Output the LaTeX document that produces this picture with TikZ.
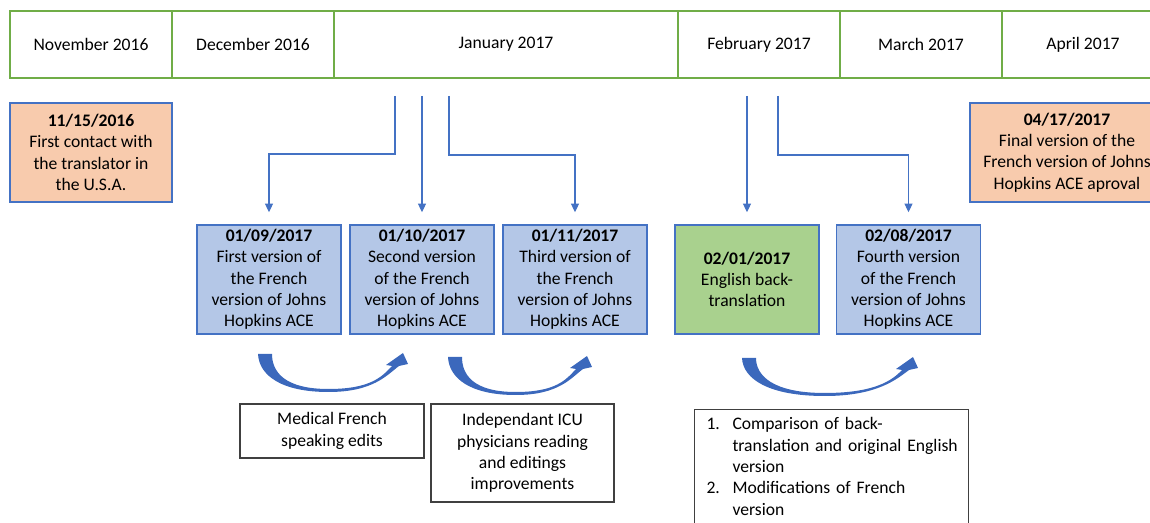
\documentclass[tikz,border=0pt]{standalone}
\usepackage{fontspec}
\setmainfont{Carlito}
\usetikzlibrary{arrows.meta}

\definecolor{hdrgreen}{HTML}{70AD47}
\definecolor{edgeblue}{HTML}{4472C4}
\definecolor{verblue}{HTML}{B4C7E7}
\definecolor{datepeach}{HTML}{F8CBAD}
\definecolor{backgreen}{HTML}{A9D18E}
\definecolor{bendblue}{HTML}{3B68BC}

\tikzset{
  every node/.style={font=\fontsize{13.2}{16}\selectfont},
  month/.style={shape=rectangle, draw=hdrgreen, line width=1.1pt, inner sep=0, minimum width=121.5pt, minimum height=50.25pt},
  milestone/.style={shape=rectangle, draw=edgeblue, line width=1.1pt, fill=datepeach, align=center, inner sep=0, minimum width=121.5pt, minimum height=74.25pt},
  version/.style={shape=rectangle, draw=edgeblue, line width=1.1pt, fill=verblue, align=center, inner sep=0, minimum width=108pt, minimum height=81.75pt},
  editbox/.style={shape=rectangle, draw=black!75, line width=0.8pt, align=center, inner sep=0},
  conn/.style={draw=edgeblue, line width=0.8pt, -{Triangle[width=6pt,length=6.5pt]}, shorten >=9pt}
}

% bent block arrow: tail x, head x, top y, bottom y (px)
\newcommand{\bentarrow}[4]{%
  \pgfmathsetmacro{\bw}{#2-#1}%
  \pgfmathsetmacro{\bh}{#4-#3}%
  \pgfmathsetmacro{\bm}{#1+0.47*\bw}%
  \fill[bendblue] (#1,#3) .. controls ({#1+1},{#3+0.55*\bh}) and ({\bm-0.32*\bw},#4) .. (\bm,#4)
    .. controls ({\bm+0.3*\bw},#4) and ({#2-21},{#3+0.55*\bh}) .. ({#2-9},{#3+12})
    -- (#2,{#3+10}) -- ({#2-5},{#3-1}) -- ({#2-22},{#3+11}) -- ({#2-16},{#3+12})
    .. controls ({#2-26},{#3+0.6*\bh}) and ({\bm+0.28*\bw},{#4-3}) .. (\bm,{#4-3})
    .. controls ({\bm-0.3*\bw},{#4-3}) and ({#1+14},{#3+0.45*\bh}) .. ({#1+14},#3) -- cycle;}

\begin{document}
\begin{tikzpicture}[x=0.75pt, y=-0.75pt]
        \useasboundingbox (0,0) rectangle (1150,523);
        % Month header:
        \node[month] (nov) at (91, 44.5) {November 2016};
        \node[month] (dec) at (253, 44.5) {December 2016};
        \node[month, minimum width=258pt] (jan) at (506, 44.5) {January 2017};
        \node[month] (feb) at (759, 44.5) {February 2017};
        \node[month] (mar) at (921, 44.5) {March 2017};
        \node[month] (apr) at (1083, 44.5) {April 2017};
        % Milestones:
        \node[milestone] (contact) at (91, 152.5) {\textbf{11/15/2016}\\First contact with\\the translator in\\the U.S.A.};
        \node[milestone, minimum width=145.5pt] (final) at (1067, 152.5) {\textbf{04/17/2017}\\Final version of the\\French version of Johns\\Hopkins ACE aproval};
        % Versions:
        \node[version] (v1) at (269, 279.5) {\textbf{01/09/2017}\\First version of\\the French\\version of Johns\\Hopkins ACE};
        \node[version] (v2) at (422, 279.5) {\textbf{01/10/2017}\\Second version\\of the French\\version of Johns\\Hopkins ACE};
        \node[version] (v3) at (575, 279.5) {\textbf{01/11/2017}\\Third version of\\the French\\version of Johns\\Hopkins ACE};
        \node[version, fill=backgreen] (back) at (747, 279.5) {\textbf{02/01/2017}\\English back-\\translation};
        \node[version] (v4) at (908.5, 279.5) {\textbf{02/08/2017}\\Fourth version\\of the French\\version of Johns\\Hopkins ACE};
        % Wires:
        \coordinate (j1) at (395, 96);
        \coordinate (j2) at (422, 96);
        \coordinate (j3) at (449, 96);
        \coordinate (f1) at (747, 96);
        \coordinate (f2) at (778, 96);
        \draw[conn] (j1) -- ++(0, 58) -| (v1.north);
        \draw[conn] (j2) -- (v2.north);
        \draw[conn] (j3) -- ++(0, 59) -| (v3.north);
        \draw[conn] (f1) -- (back.north);
        \draw[conn] (f2) -- ++(0, 59) -| (v4.north);
        % Bent arrows and edits:
        \bentarrow{258}{408}{354}{392}
        \bentarrow{448}{592}{357}{395}
        \bentarrow{742}{918}{358}{396}
        \node[editbox, minimum width=138pt, minimum height=40.5pt] (medical) at (332, 431) {Medical French\\speaking edits};
        \node[editbox, minimum width=137.25pt, minimum height=73.5pt] (icu) at (522.5, 453) {Independant ICU\\physicians reading\\and editings\\improvements};
        \node[editbox, anchor=north west, align=left, inner xsep=9pt, inner ysep=4pt, text width=187.5pt] (compare) at (694, 409) {%
          \begin{tabular}{@{}p{19.5pt}@{}l@{}}
          1. & Comparison of back-\\
             & translation and original English\\
             & version\\
          2. & Modifications of French\\
             & version\\[8pt]
          \end{tabular}};
      \end{tikzpicture}
\end{document}
